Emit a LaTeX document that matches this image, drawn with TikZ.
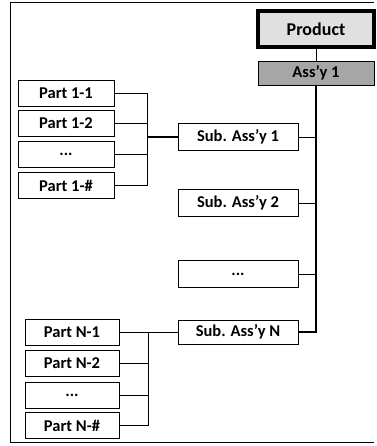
\documentclass[tikz,border=0pt]{standalone}
\usepackage{fontspec}
\setmainfont{Carlito}
\begin{document}
\begin{tikzpicture}[x=1pt,y=-1pt,
  box/.style={draw=black, line width=0.7pt, fill=white, inner sep=0pt, font=\bfseries\fontsize{16.5}{18}\selectfont},
  partbox/.style={box, minimum width=96pt, minimum height=26pt},
  subbox/.style={box, minimum width=120pt, minimum height=27pt},
  conn/.style={line width=0.7pt},
  spine/.style={line width=1.1pt}]
\useasboundingbox (0,0) rectangle (376,446);
% frame
\draw[line width=0.7pt] (374,2) -- (10,2) -- (10,442) -- (374,442);
% top
\node[box, line width=3.5pt, fill=black!12, minimum width=116pt, minimum height=36pt, font=\bfseries\fontsize{18}{20}\selectfont] (prod) at (316,29) {Product};
\node[box, fill=black!35, minimum width=116pt, minimum height=24pt] (ass) at (316,73) {Ass’y 1};
% sub assemblies
\node[subbox] (s1) at (238,137) {Sub. Ass’y 1};
\node[subbox] (s2) at (238,203) {Sub. Ass’y 2};
\node[subbox] (s3) at (238,274) {...};
\node[subbox, minimum height=24pt] (sN) at (238,332) {Sub. Ass’y N};
% parts group 1
\node[partbox] (p11) at (66,93) {Part 1-1};
\node[partbox] (p12) at (66,123.5) {Part 1-2};
\node[partbox] (p13) at (66,154.5) {...};
\node[partbox] (p14) at (66,185.5) {Part 1-\#};
% parts group N
\node[partbox, minimum width=94pt] (pn1) at (72,332) {Part N-1};
\node[partbox, minimum width=94pt] (pn2) at (72,363.5) {Part N-2};
\node[partbox, minimum width=94pt] (pn3) at (72,395) {...};
\node[partbox, minimum width=94pt] (pn4) at (72,425.5) {Part N-\#};
% junctions
\coordinate (j1) at (147,137);
\coordinate (j2) at (148,332);
% connectors group 1
\draw[conn] (p11.east) -| (j1);
\draw[conn] (p12.east) -| (j1);
\draw[conn] (p13.east) -| (j1);
\draw[conn] (p14.east) -| (j1);
\draw[spine] (j1) -- (s1.west);
% connectors group N
\draw[conn] (pn1.east) -- (j2);
\draw[conn] (pn2.east) -| (j2);
\draw[conn] (pn3.east) -| (j2);
\draw[conn] (pn4.east) -| (j2);
\draw[conn] (j2) -- (sN.west);
% spine
\draw[conn] (prod.south) -- (ass.north);
\draw[spine] (ass.south) |- (sN.east);
\draw[conn] (s1.east) -- (s1.east -| ass.south);
\draw[conn] (s2.east) -- (s2.east -| ass.south);
\draw[conn] (s3.east) -- (s3.east -| ass.south);
\end{tikzpicture}
\end{document}
